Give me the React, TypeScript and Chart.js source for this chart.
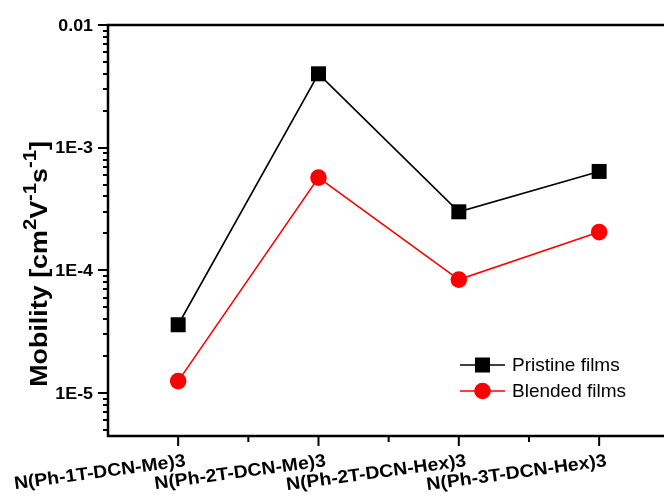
import React, { useEffect, useRef } from "react";
import { Chart, registerables } from "chart.js";
Chart.register(...registerables);

const categories = ["N(Ph-1T-DCN-Me)3", "N(Ph-2T-DCN-Me)3", "N(Ph-2T-DCN-Hex)3", "N(Ph-3T-DCN-Hex)3"];
const pristine = [3.6e-5, 4.0e-3, 3.0e-4, 6.4e-4];
const blended = [1.25e-5, 5.7e-4, 8.4e-5, 2.05e-4];
const yMajorTicks = [1e-5, 1e-4, 1e-3, 1e-2];
const yTickLabels = ["1E-5", "1E-4", "1E-3", "0.01"];
const seriesNames = ["Pristine films", "Blended films"];
const seriesColors = ["#000000", "#ff0000"];
const yMin = 4.46e-6;
const yMax = 0.01;

const FONT = '"Liberation Sans", Arial, sans-serif';

function drawStretched(ctx: CanvasRenderingContext2D, text: string, x: number, y: number, angle: number, stretch: number, align: CanvasTextAlign, baseline: CanvasTextBaseline) {
  ctx.save();
  ctx.translate(x, y);
  ctx.rotate(angle);
  ctx.scale(stretch, 1);
  ctx.textAlign = align;
  ctx.textBaseline = baseline;
  ctx.fillText(text, 0, 0);
  ctx.restore();
}

const axesPlugin = {
  id: "customAxes",
  afterDraw(chart: any) {
    const ctx: CanvasRenderingContext2D = chart.ctx;
    const { left, top, bottom } = chart.chartArea;
    const W = chart.width;
    const xs = chart.scales.x;
    const ys = chart.scales.y;
    ctx.save();
    ctx.strokeStyle = "#000";
    ctx.fillStyle = "#000";
    // frame
    ctx.lineWidth = 2.5;
    ctx.beginPath();
    ctx.moveTo(left, top);
    ctx.lineTo(left, bottom);
    ctx.moveTo(left - 1.25, bottom);
    ctx.lineTo(W, bottom);
    ctx.moveTo(left - 1.25, top);
    ctx.lineTo(W, top);
    ctx.stroke();

    // y ticks
    ctx.lineWidth = 2;
    ctx.beginPath();
    for (let d = -6; d <= -2; d++) {
      for (let m = 1; m <= 9; m++) {
        const v = m * Math.pow(10, d);
        if (v < yMin * 0.999 || v > yMax * 1.001) continue;
        const py = Math.round(ys.getPixelForValue(v));
        const len = m === 1 ? 10 : 5;
        ctx.moveTo(left - len, py);
        ctx.lineTo(left, py);
      }
    }
    ctx.stroke();

    // y tick labels
    ctx.font = `bold 17px ${FONT}`;
    yMajorTicks.forEach((v, i) => {
      const py = ys.getPixelForValue(v);
      drawStretched(ctx, yTickLabels[i], left - 15, py + 1, 0, 1.05, "right", "middle");
    });

    // x ticks
    ctx.beginPath();
    for (let i = 0; i < categories.length; i++) {
      const px = xs.getPixelForValue(i + 1);
      ctx.moveTo(px, bottom);
      ctx.lineTo(px, bottom + 10);
      const mx = xs.getPixelForValue(i + 0.5);
      if (i > 0) {
        ctx.moveTo(mx, bottom);
        ctx.lineTo(mx, bottom + 6);
      }
    }
    ctx.stroke();

    // x labels
    ctx.font = `bold 18px ${FONT}`;
    categories.forEach((c, i) => {
      const px = xs.getPixelForValue(i + 1);
      drawStretched(ctx, c, px + 8, bottom + 30, -7.7 * Math.PI / 180, 1.08, "right", "alphabetic");
    });

    // y title with superscripts
    const segs: [string, boolean][] = [["Mobility [cm", false], ["2", true], ["V", false], ["-1", true], ["s", false], ["-1", true], ["]", false]];
    const baseFont = `bold 24px ${FONT}`;
    const supFont = `bold 18px ${FONT}`;
    const stretch = 1.12;
    let total = 0;
    segs.forEach(([t, sup]) => {
      ctx.font = sup ? supFont : baseFont;
      total += ctx.measureText(t).width;
    });
    ctx.save();
    ctx.translate(47, 264);
    ctx.rotate(-Math.PI / 2);
    ctx.scale(stretch, 1);
    ctx.textAlign = "left";
    ctx.textBaseline = "alphabetic";
    let cx = -total / 2;
    segs.forEach(([t, sup]) => {
      ctx.font = sup ? supFont : baseFont;
      ctx.fillText(t, cx, sup ? -11 : 0);
      cx += ctx.measureText(t).width;
    });
    ctx.restore();

    // legend
    const lx0 = 460, lx1 = 505;
    const rows = [365, 391];
    ctx.font = `19px ${FONT}`;
    rows.forEach((ry, i) => {
      ctx.strokeStyle = seriesColors[i];
      ctx.fillStyle = seriesColors[i];
      ctx.lineWidth = 1.6;
      ctx.beginPath();
      ctx.moveTo(lx0, ry);
      ctx.lineTo(lx1, ry);
      ctx.stroke();
      const mx = (lx0 + lx1) / 2;
      if (i === 0) {
        ctx.fillRect(mx - 7.5, ry - 7.5, 15, 15);
      } else {
        ctx.beginPath();
        ctx.arc(mx, ry, 8.3, 0, Math.PI * 2);
        ctx.fill();
      }
      ctx.fillStyle = "#000";
      ctx.textAlign = "left";
      ctx.textBaseline = "middle";
      ctx.fillText(seriesNames[i], 512, ry + 1);
    });
    ctx.restore();
  },
};

export default function App() {
  const ref = useRef<HTMLCanvasElement | null>(null);
  useEffect(() => {
    if (!ref.current) return;
    const chart = new Chart(ref.current, {
      type: "line",
      data: {
        datasets: [
          {
            label: seriesNames[0],
            data: pristine.map((v, i) => ({ x: i + 1, y: v })),
            borderColor: seriesColors[0],
            backgroundColor: seriesColors[0],
            borderWidth: 1.6,
            pointStyle: "rect",
            pointRadius: 10.6,
            pointBorderWidth: 0,
            pointBackgroundColor: seriesColors[0],
            tension: 0,
            clip: false,
          },
          {
            label: seriesNames[1],
            data: blended.map((v, i) => ({ x: i + 1, y: v })),
            borderColor: seriesColors[1],
            backgroundColor: seriesColors[1],
            borderWidth: 1.6,
            pointStyle: "circle",
            pointRadius: 8.3,
            pointBorderWidth: 0,
            pointBackgroundColor: seriesColors[1],
            tension: 0,
            clip: false,
          },
        ],
      },
      options: {
        animation: false,
        responsive: false,
        devicePixelRatio: 1,
        layout: { autoPadding: false, padding: { left: 108, top: 25, right: 0, bottom: 62 } },
        plugins: { legend: { display: false }, tooltip: { enabled: false } },
        scales: {
          x: { type: "linear", min: 0.5, max: 0.5 + (664 - 108) / 140.33, display: false },
          y: { type: "logarithmic", min: yMin, max: yMax, display: false },
        },
      },
      plugins: [axesPlugin],
    });
    return () => chart.destroy();
  }, []);
  return (
    <div style={{ position: "fixed", left: 0, top: 0, width: 664, height: 498, background: "#fff" }}>
      <canvas ref={ref} width={664} height={498} style={{ display: "block", width: 664, height: 498 }} />
    </div>
  );
}
